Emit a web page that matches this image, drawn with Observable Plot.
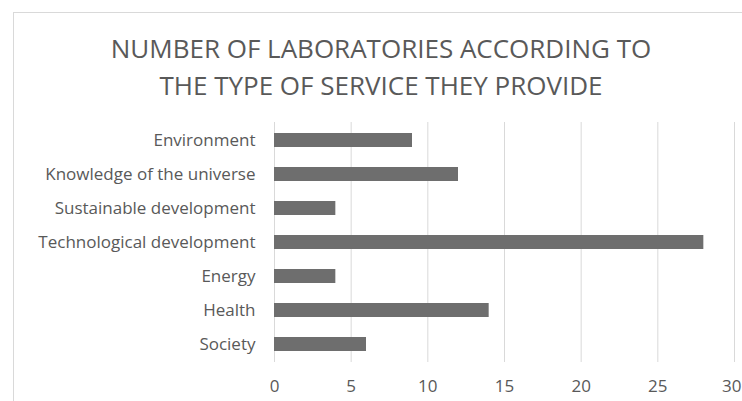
<!DOCTYPE html>
<html>
<head>
<meta charset="utf-8">
<script src="https://cdn.jsdelivr.net/npm/d3@7"></script>
<script src="https://cdn.jsdelivr.net/npm/@observablehq/plot@0.6"></script>
<style>
  html, body { margin: 0; padding: 0; background: #fff; }
  #wrap { position: relative; width: 742px; height: 401px; overflow: hidden; font-family: "Open Sans", sans-serif; }
  #frame { position: absolute; left: 13px; top: 12px; width: 760px; height: 420px; border: 1px solid #d9d9d9; box-sizing: border-box; }
  #title { position: absolute; left: 0; top: 30px; width: 762px; text-align: center; font-size: 26px; line-height: 37px; color: #595959; font-weight: 400; }
  #chart { position: absolute; left: 0; top: 0; }
</style>
</head>
<body>
<div id="wrap">
  <div id="frame"></div>
  <div id="chart"></div>
  <div id="title">NUMBER OF LABORATORIES ACCORDING TO<br>THE TYPE OF SERVICE THEY PROVIDE</div>
</div>
<script>
const categories = ["Environment", "Knowledge of the universe", "Sustainable development", "Technological development", "Energy", "Health", "Society"];
const values = [9, 12, 4, 28, 4, 14, 6];
const xTicks = [0, 5, 10, 15, 20, 25, 30];

const data = categories.map((c, i) => ({category: c, value: values[i]}));
const innerTicks = xTicks.slice(0, -1);
const lastTick = xTicks.slice(-1);

const chart = Plot.plot({
  width: 742,
  height: 401,
  marginTop: 122,
  marginBottom: 39,
  marginLeft: 274,
  marginRight: 8,
  style: {fontFamily: "Open Sans, sans-serif", fontSize: "17px", color: "#595959", background: "transparent"},
  x: {domain: [0, 30], ticks: xTicks, label: null},
  y: {domain: categories, label: null, paddingInner: 0.6, paddingOuter: 0.3},
  marks: [
    Plot.ruleX(xTicks, {stroke: "#d9d9d9", strokeWidth: 1}),
    Plot.barX(data, {y: "category", x: "value", fill: "#6e6e6e"}),
    Plot.axisX({ticks: innerTicks, tickSize: 0, tickPadding: 17, fontSize: 17, fill: "#595959"}),
    Plot.axisX({ticks: lastTick, tickSize: 0, tickPadding: 17, fontSize: 17, fill: "#595959", textAnchor: "end", dx: 7}),
    Plot.axisY({tickSize: 0, tickPadding: 19, fontSize: 17, fill: "#595959"})
  ]
});
document.getElementById("chart").appendChild(chart);
</script>
</body>
</html>
